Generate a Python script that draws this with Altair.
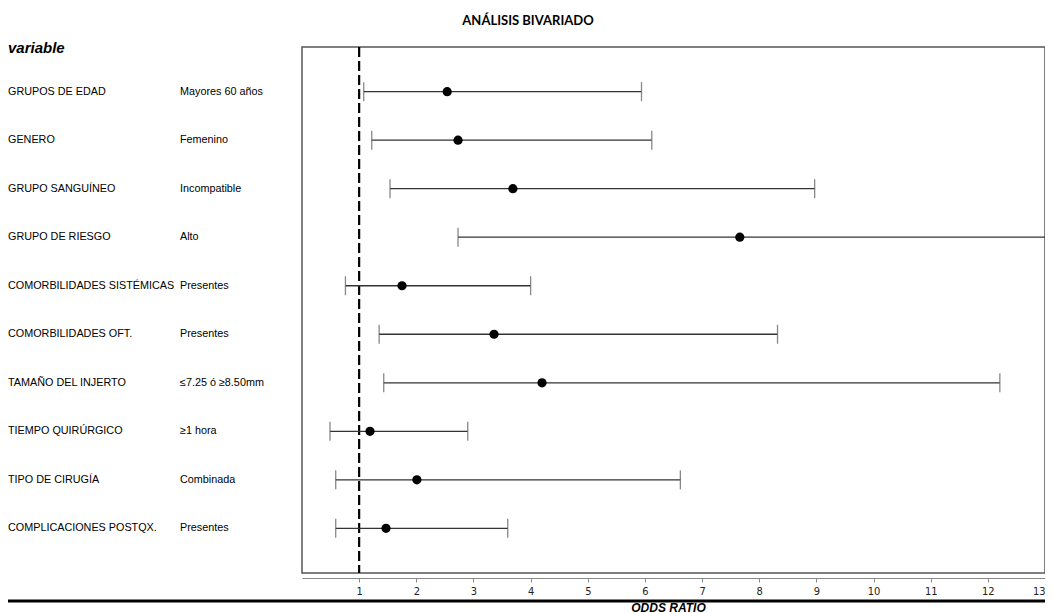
import altair as alt
import pandas as pd

variables = ["GRUPOS DE EDAD", "GENERO", "GRUPO SANGUÍNEO", "GRUPO DE RIESGO",
             "COMORBILIDADES SISTÉMICAS", "COMORBILIDADES OFT.", "TAMAÑO DEL INJERTO",
             "TIEMPO QUIRÚRGICO", "TIPO DE CIRUGÍA", "COMPLICACIONES POSTQX."]
categories = ["Mayores 60 años", "Femenino", "Incompatible", "Alto", "Presentes",
              "Presentes", "≤7.25 ó ≥8.50mm", "≥1 hora", "Combinada", "Presentes"]
odds_ratio = [2.54, 2.73, 3.69, 7.66, 1.75, 3.36, 4.20, 1.19, 2.01, 1.47]
ci_lower = [1.08, 1.22, 1.54, 2.73, 0.76, 1.35, 1.43, 0.49, 0.59, 0.59]
ci_upper = [5.94, 6.12, 8.97, 14.5, 4.00, 8.32, 12.21, 2.90, 6.62, 3.60]
x_ticks = list(range(1, 14))

df = pd.DataFrame({"variable": variables, "categoria": categories,
                   "OR": odds_ratio, "lo": ci_lower, "hi": ci_upper})

W, H = 743, 526
xs = alt.Scale(domain=[0, 13], nice=False, zero=False)
ys = alt.Scale(type="point", padding=0.92, domain=variables)
y_enc = alt.Y("variable:N", scale=ys, sort=variables, axis=None)

base = alt.Chart(df)

xaxis = alt.Axis(values=x_ticks, format="d", grid=False, offset=5, domainColor="#888888",
                 tickColor="#888888", tickSize=4,
                 labelFont="Liberation Sans Narrow, DejaVu Sans Condensed, Liberation Sans",
                 labelFontSize=11, labelColor="#222222", labelPadding=3,
                 title="ODDS RATIO", titleFont="Liberation Sans", titleFontSize=12,
                 titleFontWeight="bold", titleFontStyle="italic", titleColor="black",
                 titleX=366, titleY=33, titleBaseline="alphabetic")

whisker = base.mark_rule(color="#333333", strokeWidth=1.3, clip=True).encode(
    x=alt.X("lo:Q", scale=xs, axis=xaxis), x2="hi:Q", y=y_enc)
caps_lo = base.mark_tick(color="#555555", size=19, thickness=1.3, clip=True).encode(
    x=alt.X("lo:Q", scale=xs), y=y_enc)
caps_hi = base.mark_tick(color="#555555", size=19, thickness=1.3, clip=True).encode(
    x=alt.X("hi:Q", scale=xs), y=y_enc)
points = base.mark_circle(color="black", size=85, opacity=1).encode(
    x=alt.X("OR:Q", scale=xs), y=y_enc)

ref = alt.Chart(pd.DataFrame({"v": [1]})).mark_rule(
    color="black", strokeWidth=2.2, strokeDash=[10, 4]).encode(
    x=alt.X("v:Q", scale=xs), y=alt.value(0), y2=alt.value(H))

lab_var = base.mark_text(align="left", baseline="middle", font="Liberation Sans",
                         fontSize=10.8, color="black").encode(
    x=alt.value(-294), y=y_enc, text="variable:N")
lab_cat = base.mark_text(align="left", baseline="middle", font="Liberation Sans",
                         fontSize=10.8, color="black").encode(
    x=alt.value(-122), y=y_enc, text="categoria:N")

header = alt.Chart(pd.DataFrame({"t": ["variable"]})).mark_text(
    align="left", baseline="alphabetic", font="Liberation Sans", fontSize=15,
    fontWeight="bold", fontStyle="italic", color="black").encode(
    x=alt.value(-294), y=alt.value(6), text="t:N")

title = alt.Chart(pd.DataFrame({"t": ["ANÁLISIS BIVARIADO"]})).mark_text(
    align="center", baseline="alphabetic", font="Lato", fontSize=13,
    fontWeight="bold", color="black").encode(
    x=alt.value(226), y=alt.value(-22), text="t:N")

bottom_line = alt.Chart(pd.DataFrame({"t": [0]})).mark_rule(
    color="black", strokeWidth=3).encode(
    x=alt.value(-302), x2=alt.value(760), y=alt.value(H + 28))

chart = alt.layer(
    ref, whisker, caps_lo, caps_hi, points, lab_var, lab_cat, header, title, bottom_line
).properties(
    width=W, height=H,
    autosize=alt.AutoSizeParams(type="none"),
    padding={"left": 294, "top": 39, "right": 0, "bottom": 45},
).configure_view(stroke="#555555", strokeWidth=1.5)

chart.save("out.html", embed_options={"renderer": "svg", "actions": False})
